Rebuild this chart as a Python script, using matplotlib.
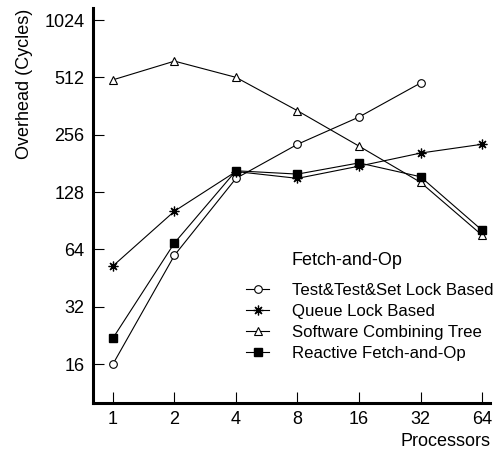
import numpy as np
import matplotlib.pyplot as plt
from matplotlib.ticker import FixedLocator, FixedFormatter, NullLocator

plt.rcParams['font.family'] = ['Liberation Sans', 'DejaVu Sans']

# overhead per fetch-and-op (cycles) vs processor count
procs = [1, 2, 4, 8, 16, 32, 64]
tts_lock = [16, 59.6, 151, 228, 317, 478]
queue_lock = [52.4, 101.6, 164, 151, 175, 205, 228]
comb_tree = [497, 623, 512, 342, 223, 144, 76]
reactive = [21.9, 69.2, 165.5, 159, 182, 154, 80.7]

yticks = [16, 32, 64, 128, 256, 512, 1024]

fig = plt.figure(figsize=(4.99, 4.51), dpi=100)
ax = fig.add_axes([93/499, 48/451, 397/499, 395/451])

lw = 0.8
ax.plot(procs[:len(tts_lock)], tts_lock, color='k', lw=lw, marker='o', ms=5.5,
        mfc='white', mec='k', mew=0.8, label='Test&Test&Set Lock Based')
ax.plot(procs, queue_lock, color='k', lw=lw, marker=(8, 2, 0), ms=7,
        mec='k', mew=0.9, label='Queue Lock Based')
ax.plot(procs, comb_tree, color='k', lw=lw, marker='^', ms=6,
        mfc='white', mec='k', mew=0.8, label='Software Combining Tree')
ax.plot(procs, reactive, color='k', lw=lw, marker='s', ms=6,
        mfc='k', mec='k', label='Reactive Fetch-and-Op')

ax.set_xscale('log', base=2)
ax.set_yscale('log', base=2)
ax.set_xlim(2**-0.325, 2**6.13)
ax.set_ylim(2**3.32, 2**10.21)

ax.xaxis.set_major_locator(FixedLocator(procs))
ax.xaxis.set_major_formatter(FixedFormatter([str(p) for p in procs]))
ax.xaxis.set_minor_locator(NullLocator())
ax.yaxis.set_major_locator(FixedLocator(yticks))
ax.yaxis.set_major_formatter(FixedFormatter([str(t) for t in yticks]))
ax.yaxis.set_minor_locator(NullLocator())

ax.tick_params(direction='in', length=8, width=0.8, labelsize=13, pad=6)
for side in ['top', 'right']:
    ax.spines[side].set_visible(False)
for side in ['left', 'bottom']:
    ax.spines[side].set_linewidth(2.2)

ax.set_ylabel('Overhead (Cycles)', fontsize=13)
ax.yaxis.set_label_coords(-0.151, 0.808)
ax.set_xlabel('Processors', fontsize=13, ha='right')
ax.xaxis.set_label_coords(1.0, -0.076)

# legend title drawn in line with the entry labels
ax.text(0.501, 0.362, 'Fetch-and-Op', transform=ax.transAxes,
        fontsize=13, ha='left', va='center')
ax.legend(loc='upper left', bbox_to_anchor=(0.385, 0.305), frameon=False,
          fontsize=12.1, handlelength=1.4, handletextpad=1.35,
          labelspacing=0.36, borderpad=0, borderaxespad=0)

fig.savefig('out.png', dpi=100)
